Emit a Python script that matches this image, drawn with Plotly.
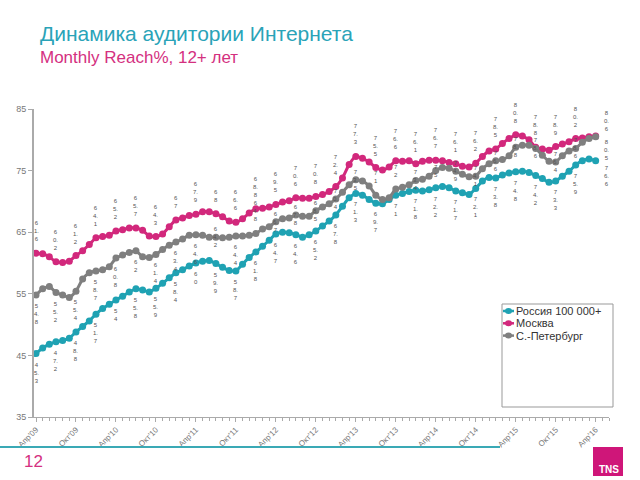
import plotly.graph_objects as go

# ---------------- data ----------------
months = list(range(85))  # Apr'09 .. Apr'16
tick_vals = list(range(0, 85, 6))
tick_text = ["Апр'09", "Окт'09", "Апр'10", "Окт'10", "Апр'11", "Окт'11", "Апр'12",
             "Окт'12", "Апр'13", "Окт'13", "Апр'14", "Окт'14", "Апр'15", "Окт'15", "Апр'16"]

series_names = ["Россия 100 000+", "Москва", "С.-Петербург"]

russia = [45.3, 46.2, 46.8, 47.2, 47.4, 47.8, 48.8, 49.7, 50.6, 51.7, 52.6, 53.3,
          54.0, 54.6, 55.3, 55.8, 55.6, 55.3, 55.9, 56.7, 57.6, 58.4, 58.9, 59.5,
          60.0, 60.3, 60.4, 59.9, 59.3, 58.8, 58.7, 59.8, 60.9, 61.8, 62.7, 63.7,
          64.7, 65.0, 64.9, 64.6, 64.2, 64.6, 65.2, 66.0, 66.8, 67.8, 69.2, 70.6,
          71.3, 71.0, 70.3, 69.7, 69.6, 70.3, 71.0, 71.3, 71.6, 71.8, 71.7, 71.9,
          72.2, 72.4, 72.2, 71.7, 71.4, 71.1, 72.1, 73.3, 73.9, 73.8, 74.3, 74.6,
          74.8, 74.9, 74.7, 74.2, 73.7, 73.1, 73.3, 74.1, 74.9, 75.9, 76.6, 76.9, 76.6]

moscow = [61.6, 61.5, 61.0, 60.2, 60.1, 60.3, 61.2, 62.0, 63.0, 64.1, 64.3, 64.5,
          65.2, 65.4, 65.7, 65.7, 65.3, 64.4, 64.3, 64.7, 65.9, 67.0, 67.3, 67.7,
          67.9, 68.3, 68.3, 68.0, 67.5, 66.8, 66.6, 67.2, 68.1, 68.8, 68.9, 69.1,
          69.5, 69.9, 70.1, 70.6, 70.5, 70.5, 70.8, 71.1, 71.6, 72.4, 73.8, 76.0,
          77.3, 77.0, 76.4, 75.5, 75.1, 75.6, 76.6, 76.5, 76.6, 76.1, 76.5, 76.7,
          76.7, 76.6, 76.3, 76.1, 75.7, 75.6, 76.2, 77.3, 78.2, 78.5, 79.4, 80.2,
          80.8, 80.6, 80.0, 78.8, 78.5, 78.3, 78.9, 79.3, 79.7, 80.2, 80.3, 80.5, 80.6]

spb = [54.8, 55.8, 56.2, 55.2, 54.8, 54.4, 55.4, 57.4, 58.4, 58.7, 58.9, 59.4,
       60.8, 61.3, 61.7, 62.0, 61.0, 60.9, 61.4, 62.2, 62.9, 63.4, 63.9, 64.5,
       64.6, 64.5, 64.2, 64.2, 64.1, 64.2, 64.4, 64.4, 64.5, 64.8, 65.5, 65.9,
       66.7, 67.2, 67.3, 67.8, 67.6, 67.6, 68.5, 69.1, 69.6, 70.4, 71.5, 72.7,
       73.5, 73.3, 72.5, 71.0, 70.3, 70.6, 72.0, 72.3, 72.7, 73.4, 73.6, 74.1,
       75.0, 75.5, 75.4, 74.9, 74.4, 74.0, 74.1, 75.3, 76.1, 76.6, 76.8, 77.4,
       78.8, 79.1, 79.1, 78.6, 77.5, 76.5, 76.4, 77.4, 78.2, 78.6, 79.6, 80.2, 80.5]

label_step = 3

# ---------------- style ----------------
C_TEAL = "#1FA2B3"
C_PINK = "#D2287C"
C_GRAY = "#7F7F7F"
FONT = "Arial, Liberation Sans, sans-serif"
LBL_FONT = dict(family=FONT, size=6, color="#555555")

L, T, B, R = 34, 109, 63, 31
PW, PH = 640 - L - R, 480 - T - B


def px_x(px):
    return (px - L) / PW


def px_y(py):
    return (480 - B - py) / PH


def stack(v):
    s = f"{v:.1f}"
    if s.endswith(".0"):
        s = s[:-2]
    lines = []
    for ch in s:
        if ch == "." and lines:
            lines[-1] += ch
        else:
            lines.append(ch)
    return "<br>".join(lines)


fig = go.Figure()
series = [(russia, C_TEAL), (moscow, C_PINK), (spb, C_GRAY)]
for (vals, col), name in zip(series, series_names):
    fig.add_trace(go.Scatter(
        x=months, y=vals, name=name, mode="lines+markers",
        line=dict(color=col, width=3, shape="spline", smoothing=0.5),
        marker=dict(color=col, size=7),
        showlegend=False, hoverinfo="x+y+name"))

annotations = []


def label(m, v, where, right=False):
    a = dict(x=months[m], y=v, xref="x", yref="y", text=stack(v), showarrow=False,
             font=LBL_FONT, align="center")
    if where == "above":
        a.update(yanchor="bottom", yshift=9)
    elif where == "below":
        a.update(yanchor="top", yshift=-6)
    else:
        a.update(yanchor="middle")
    if right:
        a.update(xanchor="left", xshift=6, yshift=(0 if where != "above" else 2))
    return a


last = len(months) - 1
for m in range(0, len(months), label_step):
    right = (m == last)
    # Россия: below its line
    annotations.append(label(m, russia[m], "below", right))
    # Москва: above its line
    annotations.append(label(m, moscow[m], "above", right))
    # С.-Петербург: below, unless the lines are too close
    gap_t = spb[m] - russia[m]
    gap_p = moscow[m] - spb[m]
    if right or gap_t >= 4.5:
        where = "below"
    elif gap_p >= 3.8:
        where = "above"
    else:
        where = "middle"
    a = label(m, spb[m], where, right)
    if right:
        a.update(yanchor="top", yshift=0)
    annotations.append(a)
# keep the right-edge teal label clear of the gray one
annotations[-3].update(yanchor="top", yshift=-2)

# titles
annotations.append(dict(x=px_x(38), y=px_y(33), xref="paper", yref="paper",
                        text="Динамика аудитории Интернета", showarrow=False,
                        xanchor="left", yanchor="middle",
                        font=dict(family=FONT, size=21, color="#2AA3B8")))
annotations.append(dict(x=px_x(38), y=px_y(57), xref="paper", yref="paper",
                        text="Monthly Reach%, 12+ лет", showarrow=False,
                        xanchor="left", yanchor="middle",
                        font=dict(family=FONT, size=17, color="#D4307F")))
# page number
annotations.append(dict(x=px_x(22), y=px_y(461), xref="paper", yref="paper",
                        text="12", showarrow=False, xanchor="left", yanchor="middle",
                        font=dict(family=FONT, size=17, color="#D4307F")))
# logo text
annotations.append(dict(x=px_x(621), y=px_y(469), xref="paper", yref="paper",
                        text="<b>TNS</b>", showarrow=False, xanchor="right", yanchor="middle",
                        font=dict(family=FONT, size=10, color="white")))

shapes = []
# legend box (manual legend)
shapes.append(dict(type="rect", xref="paper", yref="paper",
                   x0=px_x(502), x1=px_x(613), y0=px_y(407), y1=px_y(304),
                   line=dict(color="#999999", width=1), fillcolor="white", layer="above"))
for i, ((vals, col), name) in enumerate(zip(series, series_names)):
    cy = 311 + i * 12.3
    shapes.append(dict(type="line", xref="paper", yref="paper",
                       x0=px_x(503), x1=px_x(514), y0=px_y(cy), y1=px_y(cy),
                       line=dict(color=col, width=2.5), layer="above"))
    shapes.append(dict(type="circle", xref="paper", yref="paper",
                       x0=px_x(505), x1=px_x(512), y0=px_y(cy + 3), y1=px_y(cy - 3),
                       line=dict(color=col, width=0), fillcolor=col, layer="above"))
    annotations.append(dict(x=px_x(514), y=px_y(cy), xref="paper", yref="paper",
                            text=name, showarrow=False, xanchor="left", yanchor="middle",
                            font=dict(family=FONT, size=11, color="#333333")))
# bottom rule
shapes.append(dict(type="line", xref="paper", yref="paper",
                   x0=px_x(0), x1=px_x(500), y0=px_y(447), y1=px_y(447),
                   line=dict(color="#3AA9B5", width=2)))
# logo square
shapes.append(dict(type="rect", xref="paper", yref="paper",
                   x0=px_x(593), x1=px_x(623), y0=px_y(476), y1=px_y(447),
                   line=dict(width=0), fillcolor="#CF1679"))

fig.update_layout(
    width=640, height=480,
    margin=dict(l=L, r=R, t=T, b=B),
    paper_bgcolor="white", plot_bgcolor="white",
    font=dict(family=FONT, color="#666666"),
    showlegend=False,
    annotations=annotations, shapes=shapes,
    xaxis=dict(range=[-0.3, 86], tickmode="array", tickvals=tick_vals, ticktext=tick_text,
               tickangle=-45, tickfont=dict(size=8, color="#777777"),
               showgrid=False, zeroline=False, showline=True, linecolor="#AAAAAA", linewidth=1,
               ticks="outside", ticklen=4, tickcolor="#AAAAAA",
               minor=dict(dtick=1, tick0=0, ticks="outside", ticklen=3, tickcolor="#AAAAAA")),
    yaxis=dict(range=[35, 85], tickvals=[35, 45, 55, 65, 75, 85],
               tickfont=dict(size=9, color="#777777"),
               showgrid=False, zeroline=False, showline=True, linecolor="#AAAAAA", linewidth=2,
               ticks="outside", ticklen=4, tickcolor="#AAAAAA"),
)

fig.write_html("out.html", config={"displayModeBar": False},
               post_script="document.body.style.margin='0';")
